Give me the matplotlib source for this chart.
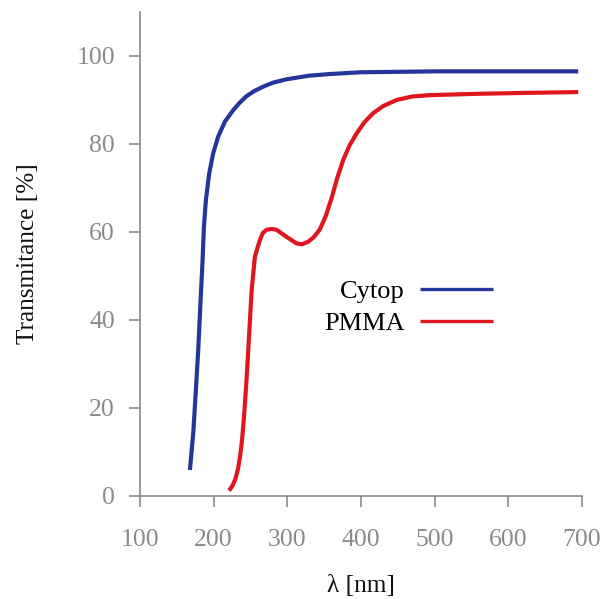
import matplotlib
matplotlib.use("Agg")
import matplotlib.pyplot as plt

plt.rcParams['font.family'] = ['Liberation Serif', 'DejaVu Serif']

cytop_wl = [167.9, 172.4, 176.0, 179.2, 182.4, 185.1, 186.9, 189.6, 194.1, 199.5, 206.3, 215.4,
            226.7, 235, 245, 255, 267, 280, 299, 328.5, 358, 400, 450, 500, 600, 695]
cytop_t = [5.9, 14.2, 24.1, 33.2, 44.5, 53.6, 61.2, 67.3, 73.3, 77.9, 81.7, 85.1,
           87.7, 89.3, 90.9, 92.0, 93.0, 93.9, 94.7, 95.5, 95.9, 96.3, 96.4, 96.5, 96.5, 96.5]

pmma_wl = [221.0, 225.5, 229.5, 233.0, 236.0, 238.5, 240.5, 242.5, 244.5, 246.5, 248.4, 251.6,
           256.1, 262.9, 267.0, 272, 279, 285.5, 299, 312.7, 320, 328.5, 336, 344, 352, 360.2,
           368, 376, 385, 394.2, 405, 416.7, 430, 448.4, 470, 493.6, 557, 620, 695]
pmma_t = [1.2, 2.3, 3.8, 6.0, 9.0, 12.5, 16.3, 20.8, 25.8, 31.3, 37.0, 46.5,
          54.4, 58.2, 59.8, 60.5, 60.7, 60.5, 58.9, 57.4, 57.2, 57.8, 58.8, 60.5, 63.5, 67.7,
          72.3, 76.4, 79.8, 82.4, 85.0, 87.0, 88.6, 90.0, 90.8, 91.1, 91.4, 91.6, 91.8]

x_ticks = [100, 200, 300, 400, 500, 600, 700]
y_ticks = [0, 20, 40, 60, 80, 100]

blue = '#24369a'
red = '#e0161f'
gray = '#8a8a8a'

fig = plt.figure(figsize=(6.03, 5.99), dpi=100)
ax = fig.add_axes([0.232, 0.172, 0.733, 0.808])

ax.plot(cytop_wl, cytop_t, color=blue, lw=3.0, solid_capstyle='butt',
        solid_joinstyle='round', label='Cytop')
ax.plot(pmma_wl, pmma_t, color=red, lw=3.0, solid_capstyle='butt',
        solid_joinstyle='round', label='PMMA')

ax.set_xlim(100, 700)
ax.set_ylim(0, 110)
ax.set_xticks(x_ticks)
ax.set_yticks(y_ticks)
ax.set_xticklabels([str(v) for v in x_ticks])
ax.set_yticklabels([str(v) for v in y_ticks])

for s in ['top', 'right']:
    ax.spines[s].set_visible(False)
for s in ['left', 'bottom']:
    ax.spines[s].set_color(gray)
    ax.spines[s].set_linewidth(1.2)

ax.tick_params(direction='out', length=8, width=1.2, color=gray,
               labelcolor=gray, labelsize=18.5)
ax.tick_params(axis='x', pad=16)
ax.tick_params(axis='y', pad=10)

ax.set_xlabel('λ [nm]', fontsize=18.2, color='#111111', labelpad=17)
ax.set_ylabel('Transmitance [%]', fontsize=18.2, color='#111111', labelpad=27)

leg = ax.legend(loc='center right', bbox_to_anchor=(0.80, 0.389), frameon=False,
                markerfirst=False, alignment='right', fontsize=19,
                handlelength=2.8, handletextpad=0.57, labelspacing=0.32,
                borderpad=0, borderaxespad=0)
for line in leg.get_lines():
    line.set_linewidth(2.4)

fig.savefig('out.png', dpi=100)
